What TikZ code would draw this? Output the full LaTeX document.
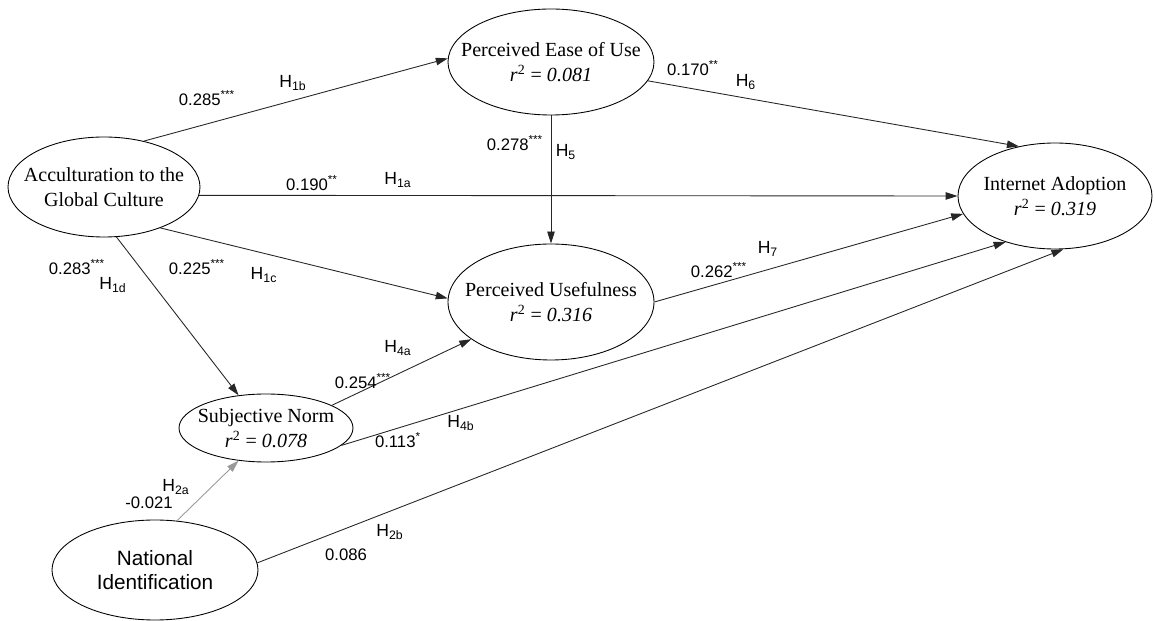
\documentclass[tikz,border=0pt]{standalone}
\usepackage{fontspec}
\setmainfont{Liberation Serif}
\setsansfont{Liberation Sans}
\usepackage{tikz}
\usetikzlibrary{arrows.meta,positioning,shapes.geometric}

\begin{document}
\begin{tikzpicture}[
  latent/.style={ellipse,draw,line width=0.5pt,inner sep=-30pt,align=center,
    font=\fontsize{11.4}{14}\selectfont},
  conn/.style={-{Triangle[length=2.4mm,width=1.5mm]},line width=0.5pt,draw=black!85},
  coef/.style={font=\sffamily\fontsize{9.5}{11}\selectfont,inner sep=1pt},
  hyp/.style={font=\sffamily\fontsize{10}{12}\selectfont,inner sep=1pt}
]
\useasboundingbox (0,0) rectangle (23.08,-12.42);

% ===================== constructs =====================
\node[latent,minimum width=3.84cm,minimum height=2.0cm] (agc) at (2.08,-3.74)
  {Acculturation to the\\Global Culture};
\node[latent,minimum width=4.12cm,minimum height=2.12cm] (peou) at (11.02,-1.24)
  {Perceived Ease of Use\\\textit{r}\textsuperscript{2} = \textit{0.081}};
\node[latent,minimum width=4.12cm,minimum height=2.32cm] (pu) at (11.02,-6.04)
  {Perceived Usefulness\\\textit{r}\textsuperscript{2} = \textit{0.316}};
\node[latent,minimum width=3.88cm,minimum height=2.12cm] (ia) at (21.10,-3.92)
  {Internet Adoption\\\textit{r}\textsuperscript{2} = \textit{0.319}};
\node[latent,minimum width=3.48cm,minimum height=1.36cm] (sn) at (5.32,-8.56)
  {Subjective Norm\\\textit{r}\textsuperscript{2} = \textit{0.078}};
\node[latent,minimum width=4.12cm,minimum height=2.0cm,
  font=\sffamily\fontsize{11.8}{13.5}\selectfont] (ni) at (3.10,-11.40)
  {National\\Identification};

% ===================== paths =====================
\draw[conn] (agc.49) -- (peou.178);
\draw[conn] (agc.-5) -- (ia.180);
\draw[conn] (agc.-36) -- (pu.178);
\draw[conn] (agc.-76) -- (sn.130);
\draw[conn] (peou.south) -- (pu.north);
\draw[conn] (peou.-11) -- (ia.126);
\draw[conn] (pu.east) -- (ia.191);
\draw[conn] (sn.19) -- (pu.205);
\draw[conn] (sn.-13) -- (ia.223);
\draw[conn,draw=black!40] (ni.66) -- (sn.230);
\draw[conn] (ni.4) -- (ia.-81);

% ===================== coefficients and hypotheses =====================
\node[coef] (c1b) at (4.14,-1.96) {0.285\textsuperscript{***}};
\node[hyp] (h1b) at (5.86,-1.66) {H\textsubscript{1b}};
\node[coef] (c5) at (10.30,-2.86) {0.278\textsuperscript{***}};
\node[hyp] (h5) at (11.32,-3.04) {H\textsubscript{5}};
\node[coef] (c1a) at (6.24,-3.66) {0.190\textsuperscript{**}};
\node[hyp] (h1a) at (7.96,-3.60) {H\textsubscript{1a}};
\node[coef] (c6) at (13.86,-1.36) {0.170\textsuperscript{**}};
\node[hyp] (h6) at (14.92,-1.64) {H\textsubscript{6}};
\node[coef] (c1d) at (1.54,-5.34) {0.283\textsuperscript{***}};
\node[hyp] (h1d) at (2.26,-5.70) {H\textsubscript{1d}};
\node[coef] (c1c) at (3.94,-5.34) {0.225\textsuperscript{***}};
\node[hyp] (h1c) at (5.28,-5.50) {H\textsubscript{1c}};
\node[hyp] (h7) at (15.36,-4.98) {H\textsubscript{7}};
\node[coef] (c7) at (14.38,-5.40) {0.262\textsuperscript{***}};
\node[hyp] (h4a) at (7.96,-6.96) {H\textsubscript{4a}};
\node[coef] (c4a) at (7.26,-7.62) {0.254\textsuperscript{***}};
\node[hyp] (h4b) at (9.22,-8.46) {H\textsubscript{4b}};
\node[coef] (c4b) at (7.96,-8.80) {0.113\textsuperscript{*}};
\node[hyp] (h2a) at (3.52,-9.74) {H\textsubscript{2a}};
\node[coef] (c2a) at (2.98,-10.06) {-0.021};
\node[hyp] (h2b) at (7.80,-10.64) {H\textsubscript{2b}};
\node[coef] (c2b) at (6.92,-11.10) {0.086};

\end{tikzpicture}
\end{document}
